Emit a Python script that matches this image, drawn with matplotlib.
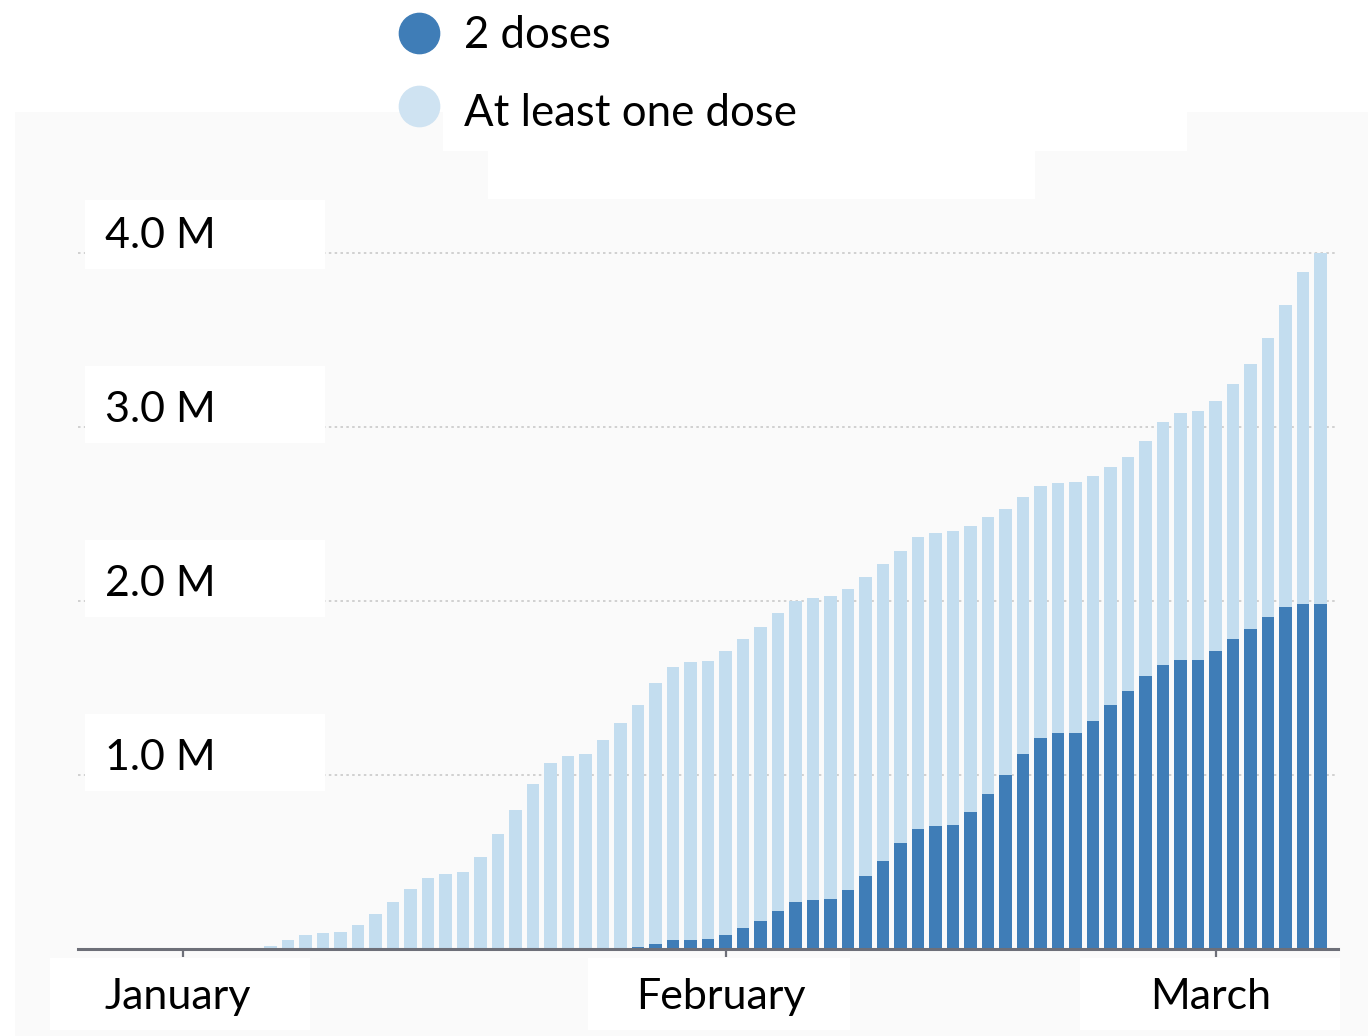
import matplotlib
matplotlib.use('Agg')
import matplotlib.pyplot as plt
from matplotlib.patches import Rectangle
from matplotlib.lines import Line2D
import matplotlib.transforms as mtransforms

plt.rcParams['font.family'] = ['Lato', 'DejaVu Sans']

# days since January 1 (one bar per day, last bar = March 7)
days = list(range(0, 66))

# people with at least one dose, millions
at_least_one = [
    0, 0, 0, 0.002, 0.006, 0.02, 0.05, 0.08, 0.09, 0.10,
    0.14, 0.20, 0.27, 0.345, 0.41, 0.43, 0.44, 0.53, 0.66, 0.80,
    0.95, 1.07, 1.11, 1.12, 1.20, 1.30, 1.405, 1.53, 1.62, 1.65,
    1.655, 1.71, 1.78, 1.85, 1.93, 2.00, 2.02, 2.03, 2.07, 2.14,
    2.21, 2.29, 2.37, 2.39, 2.40, 2.43, 2.485, 2.53, 2.60, 2.66,
    2.68, 2.683, 2.72, 2.77, 2.83, 2.92, 3.03, 3.08, 3.09, 3.15,
    3.25, 3.36, 3.51, 3.70, 3.89, 4.00,
]

# people with 2 doses, millions
two_doses = [
    0, 0, 0, 0, 0, 0, 0, 0, 0, 0,
    0, 0, 0, 0, 0, 0, 0, 0, 0, 0,
    0, 0, 0, 0, 0, 0.004, 0.013, 0.03, 0.05, 0.053,
    0.057, 0.08, 0.12, 0.16, 0.22, 0.27, 0.28, 0.29, 0.34, 0.42,
    0.505, 0.61, 0.69, 0.705, 0.71, 0.79, 0.89, 1.00, 1.12, 1.21,
    1.24, 1.244, 1.31, 1.40, 1.48, 1.57, 1.63, 1.66, 1.66, 1.71,
    1.78, 1.84, 1.91, 1.965, 1.98, 1.98,
]

month_ticks = [0, 31, 59]
month_labels = ['January', 'February', 'March']
y_ticks = [1, 2, 3, 4]
y_labels = ['1.0 M', '2.0 M', '3.0 M', '4.0 M']
legend_labels = ['2 doses', 'At least one dose']

DARK = '#3f7db7'
LIGHT = '#c3ddef'
W, H = 1368, 1036


def fig_rect(x0, y0, x1, y1, color, z=0):
    # rectangle given in pixel coords from top-left
    return Rectangle((x0 / W, 1 - y1 / H), (x1 - x0) / W, (y1 - y0) / H,
                     transform=fig.transFigure, facecolor=color,
                     edgecolor='none', zorder=z)


fig = plt.figure(figsize=(13.68, 10.36), dpi=100)
fig.patch.set_facecolor('white')

# light grey panel and the white blocks behind legend and labels
fig.patches.append(fig_rect(15, 112, 1368, 1036, '#fafafa', -3))
fig.patches.append(fig_rect(443, 112, 1187, 151, 'white', -2))
fig.patches.append(fig_rect(488, 151, 1035, 199, 'white', -2))
for x0, x1 in [(50, 310), (588, 850), (1080, 1340)]:
    fig.patches.append(fig_rect(x0, 958, x1, 1030, 'white', -2))

ax = fig.add_axes([78 / W, 1 - 949 / H, 1260 / W, 749 / H])
ax.set_facecolor('none')
ax.set_xlim(-6, 66)
ax.set_ylim(0, 749 / 174)

ax.bar(days, at_least_one, width=0.72, color=LIGHT, zorder=2)
ax.bar(days, two_doses, width=0.72, color=DARK, zorder=3)

for s in ['top', 'right', 'left']:
    ax.spines[s].set_visible(False)
ax.spines['bottom'].set_color('#6d6f78')
ax.spines['bottom'].set_linewidth(2.2)
ax.spines['bottom'].set_zorder(4)

ax.set_yticks(y_ticks)
ax.set_yticklabels([])
ax.tick_params(axis='y', length=0)
ax.yaxis.grid(True, linestyle=(0, (1.5, 2)), color='#c9c9c9', linewidth=1.2)
ax.set_axisbelow(True)

ax.set_xticks(month_ticks)
ax.set_xticklabels(month_labels, fontsize=31)
ax.tick_params(axis='x', length=6, width=1.6, color='#6d6f78', pad=15)
shift = mtransforms.ScaledTranslation(-5 / 100, 0, fig.dpi_scale_trans)
for lbl in ax.get_xticklabels():
    lbl.set_transform(lbl.get_transform() + shift)

# y labels sit just above their grid line, inside white boxes
trans = mtransforms.blended_transform_factory(ax.transAxes, ax.transData)
off = mtransforms.offset_copy(trans, fig=fig, y=5, units='dots')
for v, lab in zip(y_ticks, y_labels):
    ax.add_patch(Rectangle((7 / 1260, v - 16 / 174), 240 / 1260, 77 / 174,
                           transform=trans, facecolor='white',
                           edgecolor='none', zorder=1))
    ax.text(27 / 1260, v, lab, transform=off, fontsize=31,
            ha='left', va='baseline', zorder=5)

# legend drawn as markers + text at the top
for (yc, ty, col), lab in zip([(33, 36, DARK), (106, 114, '#cfe3f2')], legend_labels):
    fig.add_artist(Line2D([419 / W], [1 - yc / H], marker='o', markersize=29,
                          color=col, linestyle='none',
                          transform=fig.transFigure))
    fig.text(464 / W, 1 - ty / H, lab, fontsize=31.5, va='center', ha='left')

fig.savefig('out.png', dpi=100)
